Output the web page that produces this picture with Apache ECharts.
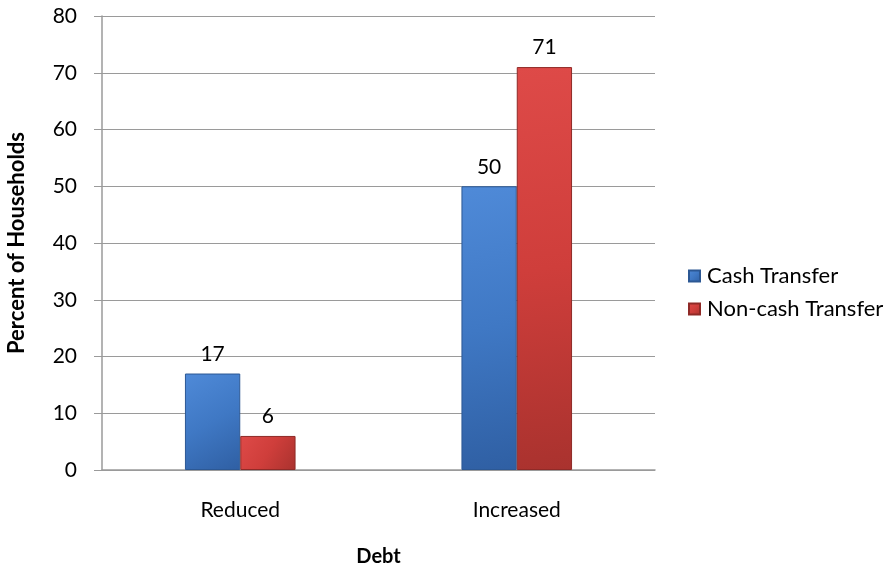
<!DOCTYPE html>
<html>
<head>
<meta charset="utf-8">
<script src="https://cdn.jsdelivr.net/npm/echarts@6/dist/echarts.min.js"></script>
<style>html,body{margin:0;padding:0;background:#fff}#c{width:896px;height:566px}</style>
</head>
<body>
<div id="c"></div>
<script>
const categories = ['Reduced', 'Increased'];
const cashTransfer = [17, 50];
const nonCashTransfer = [6, 71];
const yTicks = [0, 80, 10];

const FONT = 'Lato, "Open Sans", sans-serif';
const chart = echarts.init(document.getElementById('c'));

function grad(c1, c2, c3) {
  return new echarts.graphic.LinearGradient(0, 0, 1, 1, [
    { offset: 0, color: c1 }, { offset: 0.5, color: c2 }, { offset: 1, color: c3 }
  ]);
}

chart.setOption({
  animation: false,
  textStyle: { fontFamily: FONT },
  grid: { left: 102, right: 241, top: 16, bottom: 96, containLabel: false, outerBoundsMode: 'none' },
  legend: {
    orient: 'vertical', left: 683, top: 260,
    itemWidth: 11, itemHeight: 11, itemGap: 11,
    icon: 'rect',
    textStyle: { fontSize: 22, lineHeight: 21, color: '#000', fontFamily: FONT, padding: [0, 0, 0, 2] },
    data: ['Cash Transfer', 'Non-cash Transfer']
  },
  xAxis: {
    type: 'category', data: categories,
    name: 'Debt', nameLocation: 'middle', nameGap: 77,
    nameTextStyle: { fontSize: 20, fontWeight: 'bold', color: '#000', fontFamily: FONT },
    axisLine: { lineStyle: { color: '#9a9a9a', width: 1.5 } },
    axisTick: { show: false },
    axisLabel: { fontSize: 21, color: '#000', margin: 30, fontFamily: FONT }
  },
  yAxis: {
    type: 'value', min: yTicks[0], max: yTicks[1], interval: yTicks[2],
    name: 'Percent of Households', nameLocation: 'middle', nameGap: 74, nameRotate: 90,
    nameTextStyle: { fontSize: 22, fontWeight: 'bold', color: '#000', fontFamily: FONT },
    axisLine: { show: true, lineStyle: { color: '#9a9a9a', width: 1.5 } },
    axisTick: { show: true, length: 8, lineStyle: { color: '#9a9a9a' } },
    axisLabel: { fontSize: 21, color: '#000', margin: 25, fontFamily: FONT },
    splitLine: { lineStyle: { color: '#9a9a9a', width: 1.2 } }
  },
  series: [
    {
      name: 'Cash Transfer', type: 'bar', data: cashTransfer,
      barGap: '0%', barCategoryGap: '60%',
      itemStyle: { color: grad('#4f8ad8', '#3f78c4', '#2f5fa3'), borderColor: '#2c5894', borderWidth: 1 },
      label: { show: true, position: 'top', fontSize: 21, color: '#000', distance: 9, fontFamily: FONT }
    },
    {
      name: 'Non-cash Transfer', type: 'bar', data: nonCashTransfer,
      itemStyle: { color: grad('#de4a48', '#cf3e3b', '#a9322e'), borderColor: '#8f2a27', borderWidth: 1 },
      label: { show: true, position: 'top', fontSize: 21, color: '#000', distance: 9, fontFamily: FONT }
    }
  ]
});
</script>
</body>
</html>
